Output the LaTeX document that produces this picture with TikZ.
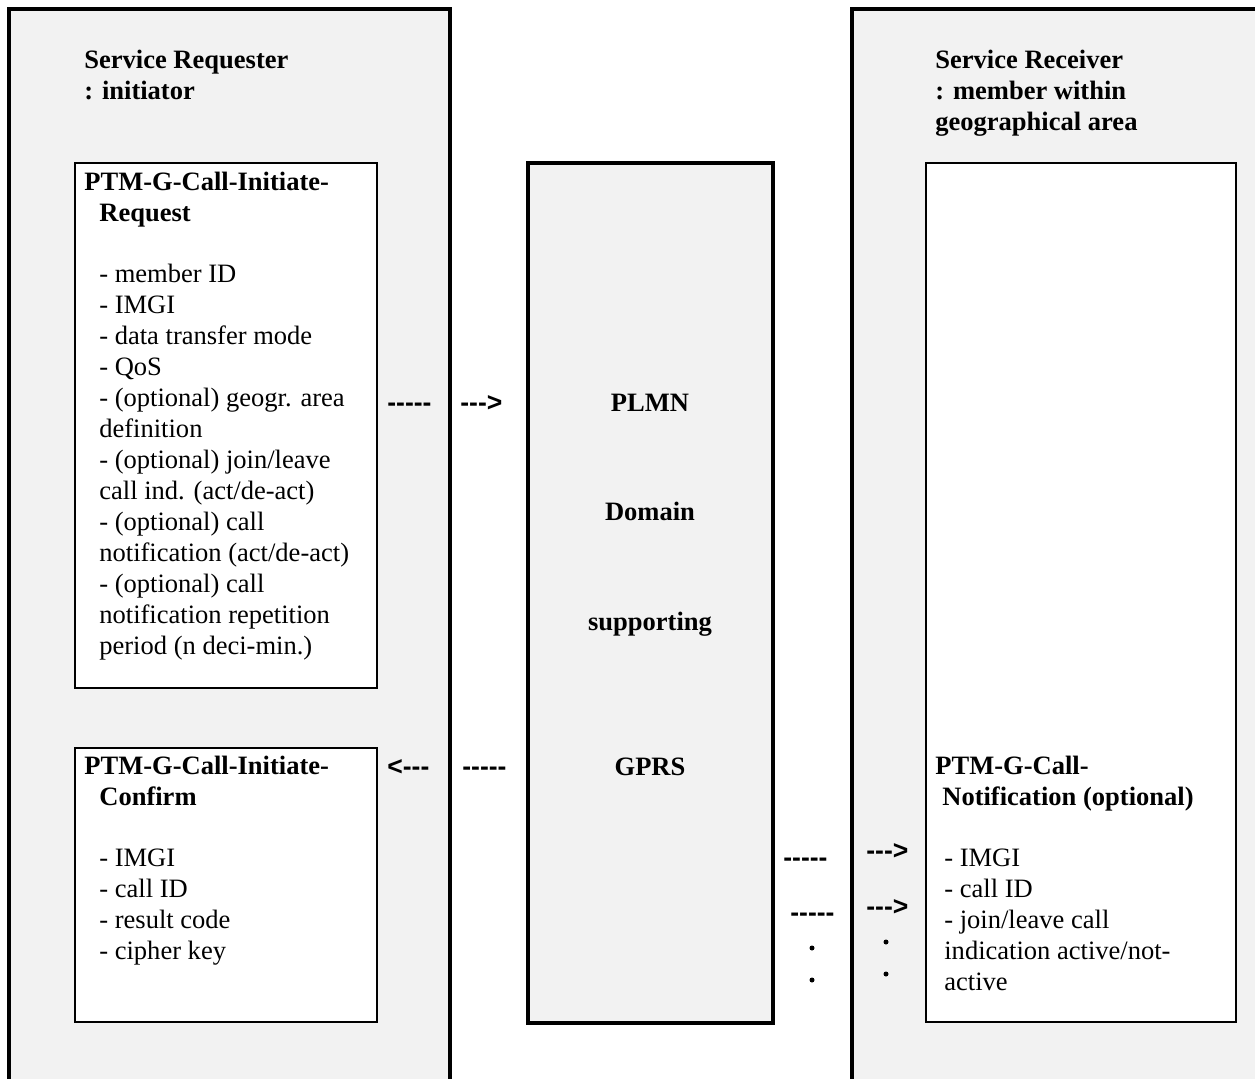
\documentclass[tikz,border=0pt]{standalone}
\usepackage{fontspec}
\setmainfont{Liberation Serif}
\newfontfamily\dashfont{Liberation Sans}
\definecolor{panelgray}{HTML}{F2F2F2}
\tikzset{
  panel/.style={line width=0.08cm},
  msgbox/.style={draw,fill=white,line width=0.05cm},
  plmnbox/.style={draw,fill=panelgray,line width=0.07cm},
  txt/.style={anchor=base west,inner sep=0pt,align=left,
    font=\fontsize{15.1pt}{17.6pt}\selectfont},
  head/.style={txt,font=\fontsize{15.1pt}{17.6pt}\selectfont\bfseries},
  mid/.style={head,anchor=base},
  dashtxt/.style={anchor=base west,inner sep=0pt,
    font=\fontsize{15.1pt}{17.6pt}\selectfont\dashfont\bfseries},
  dot/.style={circle,fill,inner sep=0pt,minimum size=0.1cm}
}
\begin{document}
\begin{tikzpicture}[x=0.02cm,y=-0.02cm]
\useasboundingbox (0,0) rectangle (1255,1079);
% side panels
\fill[panelgray] (9,9) rectangle (450,1079);
\fill[panelgray] (852,9) rectangle (1255,1079);
\draw[panel] (9,1079) -- (9,9) -- (450,9) -- (450,1079);
\draw[panel] (852,1079) -- (852,9) -- (1255,9);
% boxes
\draw[msgbox] (75,163) rectangle (377,688);
\draw[msgbox] (75,748) rectangle (377,1022);
\draw[plmnbox] (528,163) rectangle (773,1023);
\draw[msgbox] (926,163) rectangle (1236,1022);
% requester (multi-line nodes sit on their last baseline)
\node[head] (srq) at (84,99) {Service Requester\\: initiator};
\node[head] (reqhead) at (84,221) {PTM-G-Call-Initiate-\\\hspace{0.3cm}Request};
\node[txt] (reqbody) at (99,654) {- member ID\\- IMGI\\- data transfer mode\\- QoS\\
  - (optional) geogr. area\\definition\\- (optional) join/leave\\call ind. (act/de-act)\\
  - (optional) call\\notification (act/de-act)\\- (optional) call\\
  notification repetition\\period (n deci-min.)};
\node[head] (confhead) at (84,805) {PTM-G-Call-Initiate-\\\hspace{0.3cm}Confirm};
\node[txt] (confbody) at (99,959) {- IMGI\\- call ID\\- result code\\- cipher key};
% network
\node[mid] (plmn) at (650,411) {PLMN};
\node[mid] (domain) at (650,520) {Domain};
\node[mid] (supp) at (650,630) {supporting};
\node[mid] (gprs) at (650,775) {GPRS};
% receiver
\node[head] (srv) at (935,130) {Service Receiver\\: member within\\geographical area};
\node[head] (nothead) at (935,805) {PTM-G-Call-\\\hspace{0.14cm}Notification (optional)};
\node[txt] (notbody) at (944,990) {- IMGI\\- call ID\\- join/leave call\\
  indication active/not-\\active};
% message marks
\node[dashtxt] (reqdash) at (387,411) {-----};
\node[dashtxt] (reqarrow) at (460,411) {-{}-{}->};
\node[dashtxt] (confarrow) at (387,775) {<-{}-{}-};
\node[dashtxt] (confdash) at (462,775) {-----};
\node[dashtxt] (notdasha) at (783,866) {-----};
\node[dashtxt] (notarrowa) at (866,859) {-{}-{}->};
\node[dashtxt] (notdashb) at (790,921) {-----};
\node[dashtxt] (notarrowb) at (866,915) {-{}-{}->};
\node[dot] (dota) at (812,948) {};
\node[dot] (dotb) at (812,980) {};
\node[dot] (dotc) at (886,942) {};
\node[dot] (dotd) at (886,974) {};
\end{tikzpicture}
\end{document}
